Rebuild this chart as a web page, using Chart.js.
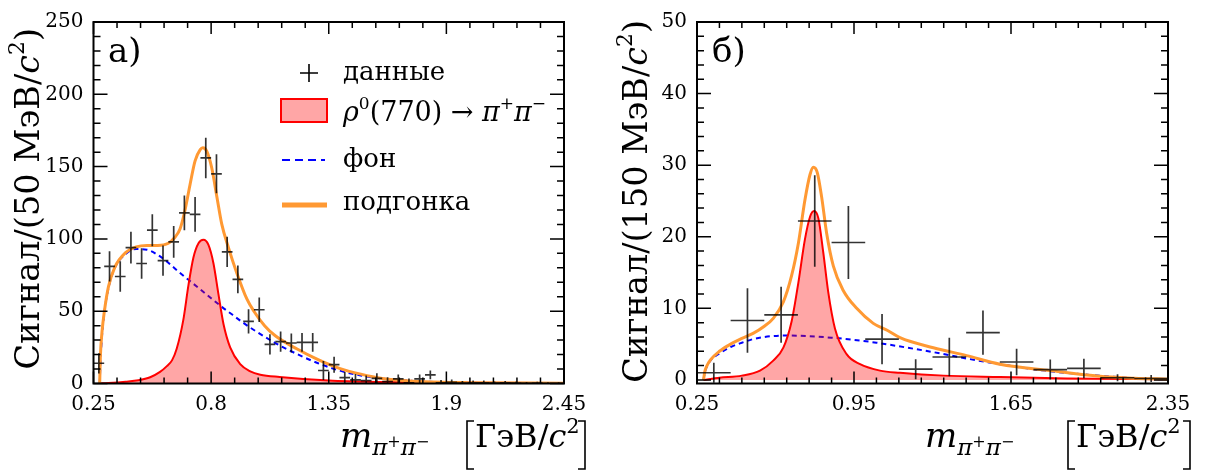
<!DOCTYPE html>
<html>
<head>
<meta charset="utf-8">
<script src="https://cdn.jsdelivr.net/npm/chart.js@4.4.0/dist/chart.umd.min.js"></script>
<style>
html, body { margin: 0; padding: 0; background: #fff; }
#wrap { position: relative; width: 1217px; height: 472px; }
canvas { position: absolute; top: 0; }
</style>
</head>
<body>
<div id="wrap">
  <canvas id="chartA" width="608" height="472" style="left:0"></canvas>
  <canvas id="chartB" width="609" height="472" style="left:608px"></canvas>
</div>
<script>
// ---- panel а): 50 MeV bins ----
const centersA = [0.275, 0.325, 0.375, 0.425, 0.475, 0.525, 0.575, 0.625, 0.675, 0.725,
  0.775, 0.825, 0.875, 0.925, 0.975, 1.025, 1.075, 1.125, 1.175, 1.225,
  1.275, 1.325, 1.375, 1.425, 1.475, 1.525, 1.575, 1.625, 1.675, 1.725,
  1.775, 1.825, 1.875, 1.925, 1.975, 2.025, 2.075, 2.125, 2.175, 2.225,
  2.275, 2.325, 2.375, 2.425]
const countsA = [14, 81, 74, 94, 83, 106, 85, 98, 118, 117,
  156, 145, 91, 72, 43, 51, 27, 29, 28, 28.5,
  28.5, 9, 13, 4, 2.5, 2, 3.6, 1.4, 3.2, 0.5,
  3.2, 6, 0.5, 0.8, 0.3, 0.5, 0.5, 0.2, 0.5, 0.2,
  0.1, 0.2, 0, 0]
const errA = [7, 10.5, 10.5, 11, 10.5, 11, 10.5, 11, 12, 12,
  14, 13.5, 10.5, 9.6, 8.4, 8.5, 7, 7, 6.5, 6.5,
  6.5, 6.5, 5.5, 4, 4, 3.5, 3.5, 3, 3, 3,
  3, 3, 2, 2, 1.5, 1.5, 1.5, 1.2, 1.2, 1,
  1, 1, 0.8, 0.8]

const rhoAx = [0.279, 0.32, 0.40, 0.46, 0.515, 0.561, 0.593, 0.617, 0.639, 0.670, 0.694, 0.717, 0.741, 0.764,
  0.787, 0.811, 0.834, 0.858, 0.889, 0.936, 0.983, 1.03, 1.12, 1.35, 1.6, 2.0, 2.45]
const rhoAy = [0, 0.3, 1.2, 2.2, 4.3, 8.0, 12, 16, 24, 44, 68, 87, 97, 99.4,
  96, 83, 62, 41, 25, 13.4, 8.4, 6.1, 4.5, 2.0, 1.0, 0.5, 0.3]

const bkgAx = [0.279, 0.285, 0.30, 0.32, 0.35, 0.40, 0.45, 0.50, 0.55, 0.60, 0.65, 0.70, 0.75, 0.80,
  0.85, 0.90, 0.95, 1.00, 1.10, 1.20, 1.30, 1.40, 1.50, 1.60, 1.70, 1.80, 2.00, 2.45]
const bkgAy = [0, 22, 48, 66, 80, 89.5, 93, 92.5, 89, 83.5, 77, 71, 65, 59,
  53, 47.5, 42, 37, 28, 20.5, 14, 9, 5.5, 3.5, 2.2, 1.3, 0.5, 0.1]

const fitAx = [0.279, 0.282, 0.29, 0.30, 0.32, 0.35, 0.40, 0.45, 0.50, 0.55, 0.60, 0.63, 0.655, 0.678,
  0.702, 0.725, 0.749, 0.761, 0.780, 0.803, 0.827, 0.850, 0.881, 0.920, 0.967, 1.00, 1.05, 1.10,
  1.20, 1.30, 1.40, 1.50, 1.60, 1.70, 1.80, 2.00, 2.45]
const fitAy = [0, 18, 36, 49, 67, 80.5, 90.5, 94.5, 95.5, 95.5, 97, 101, 107, 120,
  138, 154, 161.7, 163, 160.5, 149, 129, 110, 94, 76.5, 58.5, 50, 40, 33,
  24, 16.5, 10.5, 6.5, 3.5, 2, 1.2, 0.6, 0.2]

const xTicksA = [0.25, 0.8, 1.35, 1.9, 2.45]
const xLabelsA = ['0.25', '0.8', '1.35', '1.9', '2.45']
const yTicksA = [0, 50, 100, 150, 200, 250]

// ---- panel б): 150 MeV bins ----
const centersB = [0.325, 0.475, 0.625, 0.775, 0.925, 1.075, 1.225, 1.375, 1.525, 1.675, 1.825, 1.975, 2.125, 2.275]
const countsB = [1.0, 8.3, 9.1, 22.2, 19.2, 5.7, 1.5, 3.2, 6.6, 2.5, 1.45, 1.6, 0.3, 0.2]
const errB = [1.4, 4.5, 3.9, 6.4, 5.1, 3.5, 1.4, 2.7, 3.1, 1.85, 1.4, 1.35, 0.5, 0.5]

const rhoBx = [0.279, 0.35, 0.45, 0.531, 0.590, 0.635, 0.672, 0.702, 0.731, 0.754, 0.772, 0.791, 0.813,
  0.835, 0.865, 0.917, 0.977, 1.066, 1.155, 1.35, 1.6, 1.9, 2.35]
const rhoBy = [0, 0.3, 0.6, 1.3, 2.7, 4.5, 8.2, 13.6, 19.6, 22.8, 23.6, 22.6, 17.8,
  12.3, 7.2, 3.6, 2.2, 1.3, 1.0, 0.6, 0.4, 0.2, 0.1]

const bkgBx = [0.279, 0.285, 0.293, 0.31, 0.35, 0.40, 0.45, 0.50, 0.55, 0.65, 0.75, 0.85, 0.95, 1.05,
  1.15, 1.30, 1.45, 1.60, 1.80, 2.00, 2.20, 2.35]
const bkgBy = [0, 1.1, 1.8, 2.7, 3.7, 4.6, 5.2, 5.7, 6.0, 6.2, 6.1, 5.9, 5.6, 5.2,
  4.7, 3.9, 3.0, 2.2, 1.3, 0.7, 0.25, 0.05]

const fitBx = [0.279, 0.285, 0.293, 0.31, 0.35, 0.40, 0.45, 0.50, 0.55, 0.59, 0.635, 0.672, 0.702, 0.731,
  0.754, 0.769, 0.786, 0.806, 0.828, 0.858, 0.902, 0.962, 1.036, 1.10, 1.155, 1.304, 1.452, 1.601,
  1.824, 2.047, 2.2, 2.35]
const fitBy = [0, 1.2, 1.9, 2.8, 4.0, 5.0, 5.8, 6.5, 7.5, 8.6, 10.9, 14.6, 19.1, 25.1,
  28.7, 29.7, 29.0, 25.5, 20.5, 15.9, 12.5, 10.0, 7.9, 6.9, 5.9, 4.5, 3.4, 2.2,
  1.3, 0.5, 0.25, 0.1]

const xTicksB = [0.25, 0.95, 1.65, 2.35]
const xLabelsB = ['0.25', '0.95', '1.65', '2.35']
const yTicksB = [0, 10, 20, 30, 40, 50]

const FONT = '"DejaVu Serif", "Liberation Serif", serif'
const ORANGE = '#ff9933'

function toPoints(xs, ys) {
    return xs.map((x, i) => ({x: x, y: ys[i]}))
}

// crosses: horizontal bin bar + vertical error bar, gaps between them
function crossPoints(c, v, e, hw) {
    let pts = []
    c.forEach((x, i) => {
        pts.push({x: x - hw, y: v[i]}, {x: x + hw, y: v[i]}, {x: x, y: null})
        pts.push({x: x, y: v[i] - e[i]}, {x: x, y: v[i] + e[i]}, {x: x, y: null})
    })
    return pts
}

function partsWidth(ctx, parts) {
    let w = 0
    parts.forEach(p => {
        ctx.font = (p.i ? 'italic ' : '') + p.s + 'px ' + FONT
        w += ctx.measureText(p.t).width
    })
    return w
}

function drawParts(ctx, parts, x, y) {
    parts.forEach(p => {
        ctx.font = (p.i ? 'italic ' : '') + p.s + 'px ' + FONT
        ctx.fillText(p.t, x, y + (p.dy || 0))
        x += ctx.measureText(p.t).width
    })
    return x
}

function framePlugin(cfg) {
    return {
        id: 'rootFrame',
        afterDatasetsDraw(chart) {
            const ctx = chart.ctx
            const a = chart.chartArea
            const sx = chart.scales.x, sy = chart.scales.y
            ctx.save()
            ctx.strokeStyle = '#000'
            ctx.lineWidth = 1.5
            ctx.beginPath()
            for (let i = 0; i < cfg.xMajor.length - 1; i++) {
                for (let j = 0; j < cfg.xSub; j++) {
                    let v = cfg.xMajor[i] + (cfg.xMajor[i + 1] - cfg.xMajor[i]) * j / cfg.xSub
                    let px = sx.getPixelForValue(v)
                    let len = j == 0 ? 12 : 6
                    ctx.moveTo(px, a.bottom); ctx.lineTo(px, a.bottom - len)
                    ctx.moveTo(px, a.top); ctx.lineTo(px, a.top + len)
                }
            }
            for (let i = 0; i < cfg.yMajor.length - 1; i++) {
                for (let j = 0; j < cfg.ySub; j++) {
                    let v = cfg.yMajor[i] + (cfg.yMajor[i + 1] - cfg.yMajor[i]) * j / cfg.ySub
                    let py = sy.getPixelForValue(v)
                    let len = j == 0 ? 14 : 7
                    ctx.moveTo(a.left, py); ctx.lineTo(a.left + len, py)
                    ctx.moveTo(a.right, py); ctx.lineTo(a.right - len, py)
                }
            }
            ctx.stroke()
            ctx.lineWidth = 2
            ctx.strokeRect(a.left, a.top, a.right - a.left, a.bottom - a.top)
            ctx.restore()
        },
        afterDraw(chart) {
            const ctx = chart.ctx
            ctx.save()
            ctx.fillStyle = '#000'
            ctx.textBaseline = 'alphabetic'

            // y title, rotated, ending near the top of the frame
            ctx.save()
            ctx.translate(cfg.yTitleX, cfg.yTitleEnd)
            ctx.rotate(-Math.PI / 2)
            let w = partsWidth(ctx, cfg.yTitle)
            drawParts(ctx, cfg.yTitle, -w, 0)
            ctx.restore()

            // x title
            drawParts(ctx, [
                {t: 'm', s: 34, i: true},
                {t: 'π', s: 23, i: true, dy: 8},
                {t: '+', s: 16},
                {t: 'π', s: 23, i: true, dy: 8},
                {t: '−', s: 16}
            ], cfg.mX, 447)
            let bl = cfg.bracketL, br = cfg.bracketR
            ctx.strokeStyle = '#000'
            ctx.lineWidth = 1.6
            ctx.beginPath()
            ctx.moveTo(bl + 7, 421); ctx.lineTo(bl, 421); ctx.lineTo(bl, 469); ctx.lineTo(bl + 7, 469)
            ctx.moveTo(br - 7, 421); ctx.lineTo(br, 421); ctx.lineTo(br, 469); ctx.lineTo(br - 7, 469)
            ctx.stroke()
            drawParts(ctx, [
                {t: 'ГэВ', s: 32},
                {t: '/', s: 32},
                {t: 'c', s: 32, i: true},
                {t: '2', s: 21, dy: -14}
            ], bl + 8, 447)

            // panel label
            drawParts(ctx, [{t: cfg.label, s: 34}], cfg.labelX, 62)

            if (cfg.legend) {
                // data marker
                ctx.strokeStyle = '#000'
                ctx.lineWidth = 1.6
                ctx.beginPath()
                ctx.moveTo(300, 73); ctx.lineTo(318, 73)
                ctx.moveTo(309, 64); ctx.lineTo(309, 82)
                ctx.stroke()
                drawParts(ctx, [{t: 'данные', s: 26}], 343, 80)
                // rho box
                ctx.fillStyle = 'rgba(255,0,0,0.35)'
                ctx.fillRect(281, 99, 46, 23)
                ctx.strokeStyle = '#ff0000'
                ctx.lineWidth = 2
                ctx.strokeRect(281, 99, 46, 23)
                ctx.fillStyle = '#000'
                drawParts(ctx, [
                    {t: 'ρ', s: 27, i: true},
                    {t: '0', s: 17, dy: -12},
                    {t: '(770)', s: 27},
                    {t: ' → ', s: 27},
                    {t: 'π', s: 27, i: true},
                    {t: '+', s: 17, dy: -12},
                    {t: 'π', s: 27, i: true},
                    {t: '−', s: 17, dy: -12}
                ], 343, 121)
                // background
                ctx.strokeStyle = '#0000ff'
                ctx.lineWidth = 2
                ctx.setLineDash([8, 5])
                ctx.beginPath()
                ctx.moveTo(282, 160); ctx.lineTo(325, 160)
                ctx.stroke()
                ctx.setLineDash([])
                drawParts(ctx, [{t: 'фон', s: 26}], 343, 167)
                // fit
                ctx.strokeStyle = ORANGE
                ctx.lineWidth = 5
                ctx.beginPath()
                ctx.moveTo(282, 205); ctx.lineTo(327, 205)
                ctx.stroke()
                drawParts(ctx, [{t: 'подгонка', s: 26}], 343, 210)
            }
            ctx.restore()
        }
    }
}

function makeChart(id, p) {
    let datasets = [
        {
            label: 'данные',
            data: crossPoints(p.centers, p.counts, p.err, p.halfWidth),
            borderColor: 'rgba(0,0,0,0.8)',
            borderWidth: 1.7,
            pointRadius: 0,
            tension: 0,
            spanGaps: false,
            fill: false
        },
        {
            label: 'подгонка',
            data: toPoints(p.fitX, p.fitY),
            borderColor: ORANGE,
            borderWidth: 3,
            pointRadius: 0,
            cubicInterpolationMode: 'monotone',
            fill: false
        },
        {
            label: 'rho',
            data: toPoints(p.rhoX, p.rhoY),
            borderColor: '#ff0000',
            backgroundColor: 'rgba(255,0,0,0.35)',
            borderWidth: 2,
            pointRadius: 0,
            cubicInterpolationMode: 'monotone',
            fill: 'origin'
        },
        {
            label: 'фон',
            data: toPoints(p.bkgX, p.bkgY),
            borderColor: '#0000ff',
            borderWidth: 2,
            borderDash: [5, 4],
            pointRadius: 0,
            cubicInterpolationMode: 'monotone',
            fill: false
        }
    ]

    return new Chart(document.getElementById(id), {
        type: 'line',
        data: {datasets: datasets},
        options: {
            responsive: false,
            animation: false,
            devicePixelRatio: 1,
            layout: {padding: {top: 15, right: p.padRight, bottom: 0, left: 0}},
            plugins: {legend: {display: false}, tooltip: {enabled: false}},
            scales: {
                x: {
                    type: 'linear',
                    min: p.xTicks[0],
                    max: p.xTicks[p.xTicks.length - 1],
                    grid: {display: false, drawTicks: false},
                    border: {display: false},
                    afterBuildTicks: s => { s.ticks = p.xTicks.map(v => ({value: v})) },
                    afterFit: s => { s.height = 88.5 },
                    ticks: {
                        padding: 9,
                        color: '#000',
                        maxRotation: 0,
                        autoSkip: false,
                        font: {family: FONT, size: 20},
                        callback: (v, i) => p.xLabels[i]
                    }
                },
                y: {
                    min: p.yMin,
                    max: p.yTicks[p.yTicks.length - 1],
                    grid: {display: false, drawTicks: false},
                    border: {display: false},
                    afterBuildTicks: s => { s.ticks = p.yTicks.map(v => ({value: v})) },
                    afterFit: s => { s.width = p.yWidth },
                    ticks: {
                        padding: 10,
                        color: '#000',
                        autoSkip: false,
                        font: {family: FONT, size: 20},
                        callback: v => String(v)
                    }
                }
            }
        },
        plugins: [framePlugin(p.frame)]
    })
}

makeChart('chartA', {
    centers: centersA, counts: countsA, err: errA, halfWidth: 0.025,
    fitX: fitAx, fitY: fitAy, rhoX: rhoAx, rhoY: rhoAy, bkgX: bkgAx, bkgY: bkgAy,
    xTicks: xTicksA, xLabels: xLabelsA, yTicks: yTicksA, yMin: 0,
    padRight: 44, yWidth: 93.5,
    frame: {
        xMajor: xTicksA, xSub: 5, yMajor: yTicksA, ySub: 5,
        yTitle: [
            {t: 'Сигнал/(50 МэВ/', s: 33.5},
            {t: 'c', s: 33.5, i: true},
            {t: '2', s: 22, dy: -15},
            {t: ')', s: 33.5}
        ],
        yTitleX: 39, yTitleEnd: 28,
        mX: 340, bracketL: 467, bracketR: 585,
        label: 'а)', labelX: 108,
        legend: true
    }
})

makeChart('chartB', {
    centers: centersB, counts: countsB, err: errB, halfWidth: 0.075,
    fitX: fitBx, fitY: fitBy, rhoX: rhoBx, rhoY: rhoBy, bkgX: bkgBx, bkgY: bkgBy,
    xTicks: xTicksB, xLabels: xLabelsB, yTicks: yTicksB, yMin: -0.5,
    padRight: 49, yWidth: 89,
    frame: {
        xMajor: xTicksB, xSub: 7, yMajor: yTicksB, ySub: 5,
        yTitle: [
            {t: 'Сигнал/(150 МэВ/', s: 33.5},
            {t: 'c', s: 33.5, i: true},
            {t: '2', s: 22, dy: -15},
            {t: ')', s: 33.5}
        ],
        yTitleX: 39, yTitleEnd: 20,
        mX: 317, bracketL: 460, bracketR: 582,
        label: 'б)', labelX: 104,
        legend: false
    }
})
</script>
</body>
</html>
